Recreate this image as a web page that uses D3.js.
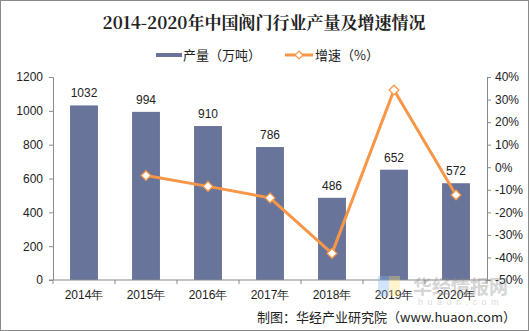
<!DOCTYPE html>
<html>
<head>
<meta charset="utf-8">
<script src="https://cdn.jsdelivr.net/npm/d3@7"></script>
<style>
  body { margin: 0; background: #fff; }
  svg { display: block; font-family: "Liberation Sans", Arial, sans-serif; }
  .axis path, .axis line { stroke: #898989; }
  .axis text { fill: #222; font-size: 11px; }
</style>
</head>
<body>
<svg width="529" height="331"></svg>
<script>
var years = ["2014年", "2015年", "2016年", "2017年", "2018年", "2019年", "2020年"];
var output = [1032, 994, 910, 786, 486, 652, 572];
var growth = [null, -3.7, -8.5, -13.6, -38.2, 34.2, -12.3];
var leftTicks = [0, 200, 400, 600, 800, 1000, 1200];
var rightTicks = [-50, -40, -30, -20, -10, 0, 10, 20, 30, 40];

var svg = d3.select("svg"),
    margin = {top: 77, right: 42, bottom: 51, left: 53},
    width = +svg.attr("width") - margin.left - margin.right,
    height = +svg.attr("height") - margin.top - margin.bottom;

var barColor = "#68749a",
    lineColor = "#f79646",
    cjk = "'Noto Sans CJK SC', sans-serif";

// outer frame
svg.append("rect")
    .attr("x", 0.5).attr("y", 0.5)
    .attr("width", 528).attr("height", 330)
    .attr("fill", "none")
    .attr("stroke", "#8a8a8a");

svg.append("text")
    .attr("x", 264).attr("y", 29)
    .attr("text-anchor", "middle")
    .style("font-family", "'Noto Serif CJK SC', 'Noto Sans CJK SC', serif")
    .style("font-size", "17px")
    .style("font-weight", "bold")
    .attr("fill", "#222")
    .text("2014-2020年中国阀门行业产量及增速情况");

// legend
var legend = svg.append("g").style("font-family", cjk).style("font-size", "13px");
legend.append("rect")
    .attr("x", 156).attr("y", 53).attr("width", 26).attr("height", 4)
    .attr("fill", barColor);
legend.append("text").attr("x", 183).attr("y", 60).attr("fill", "#222").text("产量（万吨）");
legend.append("line")
    .attr("x1", 285).attr("x2", 313).attr("y1", 55).attr("y2", 55)
    .attr("stroke", lineColor).attr("stroke-width", 3);
legend.append("path")
    .attr("d", d3.symbol().type(d3.symbolDiamond2).size(40))
    .attr("transform", "translate(299,55)")
    .attr("fill", "#fff").attr("stroke", lineColor).attr("stroke-width", 1.2);
legend.append("text").attr("x", 315).attr("y", 60).attr("fill", "#222").text("增速（%）");

var g = svg.append("g")
    .attr("transform", "translate(" + margin.left + "," + margin.top + ")");

var x = d3.scaleBand().domain(years).range([0, width]).paddingInner(0.55).paddingOuter(0.275),
    xb = d3.scaleBand().domain(years).range([0, width]),
    y = d3.scaleLinear().domain([0, 1200]).range([height, 0]),
    y2 = d3.scaleLinear().domain([-50, 40]).range([height, 0]);

g.append("g")
    .attr("class", "axis")
    .call(d3.axisLeft(y).tickValues(leftTicks).tickSize(4).tickPadding(6).tickFormat(d3.format("d")))
    .call(function(a) { a.select(".domain").attr("d", "M-4,0.5H0.5V" + height); })
    .selectAll("text").style("font-size", "12px");

g.append("g")
    .attr("class", "axis")
    .attr("transform", "translate(" + width + ",0)")
    .call(d3.axisRight(y2).tickValues(rightTicks).tickSize(4).tickPadding(4)
      .tickFormat(function(d) { return d + "%"; }))
    .call(function(a) { a.select(".domain").attr("d", "M4,0.5H0.5V" + height + "H4"); })
    .selectAll("text").style("font-size", "12px");

g.selectAll(".bar")
    .data(output)
    .enter().append("rect")
    .attr("x", function(d, i) { return x(years[i]); })
    .attr("y", function(d) { return y(d); })
    .attr("width", x.bandwidth())
    .attr("height", function(d) { return height - y(d); })
    .attr("fill", barColor);

// bottom axis with ticks on category boundaries
var bottom = g.append("g").attr("transform", "translate(0," + height + ")");
bottom.append("line")
    .attr("x1", -4).attr("x2", width)
    .attr("stroke", "#898989");
bottom.selectAll(".tk")
    .data(d3.range(years.length + 1))
    .enter().append("line")
    .attr("x1", function(i) { return i * xb.step(); })
    .attr("x2", function(i) { return i * xb.step(); })
    .attr("y1", 0).attr("y2", 4)
    .attr("stroke", "#898989");
bottom.selectAll(".lbl")
    .data(years)
    .enter().append("text")
    .attr("x", function(d) { return xb(d) + xb.bandwidth() / 2; })
    .attr("y", 19)
    .attr("text-anchor", "middle")
    .attr("fill", "#222")
    .style("font-size", "12px")
    .text(function(d) { return d; });

// watermark
var wm = svg.append("g").attr("opacity", 0.35);
wm.append("rect").attr("x", 378).attr("y", 276).attr("width", 11).attr("height", 20).attr("fill", "#7fb4f5");
wm.append("rect").attr("x", 389).attr("y", 276).attr("width", 11).attr("height", 20).attr("fill", "#fde07a");
wm.append("text").attr("x", 413).attr("y", 294)
    .style("font-family", cjk).style("font-size", "19px").style("font-weight", "bold")
    .attr("fill", "#888").text("华经情报网");
wm.append("text").attr("x", 418).attr("y", 305)
    .style("font-size", "9px").attr("fill", "#999")
    .style("letter-spacing", "4.5px").text("huaon.com");

g.selectAll(".val")
    .data(output)
    .enter().append("text")
    .attr("x", function(d, i) { return xb(years[i]) + xb.bandwidth() / 2; })
    .attr("y", function(d) { return y(d) - 8; })
    .attr("text-anchor", "middle")
    .attr("fill", "#222")
    .style("font-size", "12px")
    .text(function(d) { return d; });

var pts = growth.map(function(v, i) { return {year: years[i], v: v}; })
    .filter(function(d) { return d.v !== null; });

var line = d3.line()
    .x(function(d) { return xb(d.year) + xb.bandwidth() / 2; })
    .y(function(d) { return y2(d.v); });

g.append("path")
    .datum(pts)
    .attr("d", line)
    .attr("fill", "none")
    .attr("stroke", lineColor)
    .attr("stroke-width", 3)
    .attr("stroke-linejoin", "round");

g.selectAll(".mk")
    .data(pts)
    .enter().append("path")
    .attr("d", d3.symbol().type(d3.symbolDiamond2).size(60))
    .attr("transform", function(d) {
      return "translate(" + (xb(d.year) + xb.bandwidth() / 2) + "," + y2(d.v) + ")";
    })
    .attr("fill", "#fff")
    .attr("stroke", lineColor)
    .attr("stroke-width", 1.3);

svg.append("text")
    .attr("x", 516).attr("y", 322)
    .attr("text-anchor", "end")
    .style("font-family", cjk)
    .style("font-size", "13px")
    .attr("fill", "#222")
    .text("制图：华经产业研究院（www.huaon.com）");
</script>
</body>
</html>
